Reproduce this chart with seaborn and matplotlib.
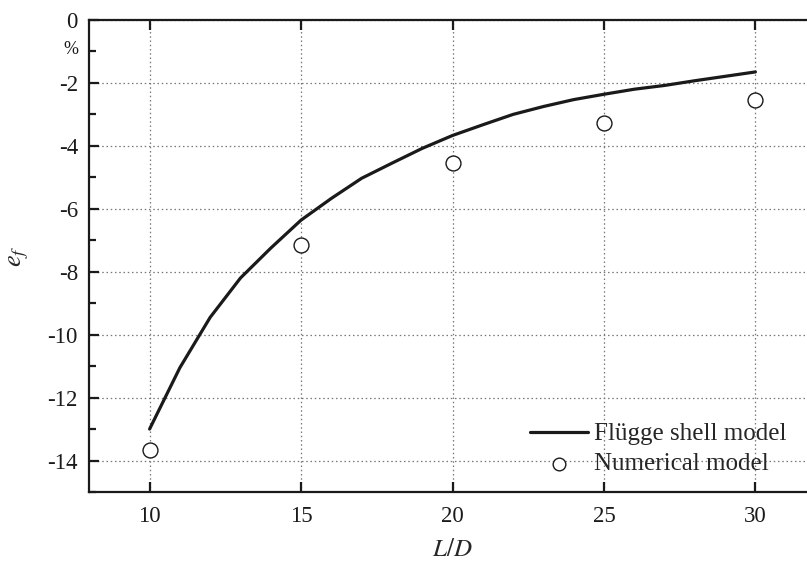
import matplotlib
matplotlib.use("Agg")
import matplotlib.pyplot as plt
import matplotlib.transforms as mtransforms
import seaborn as sns
import pandas as pd
from matplotlib.ticker import FixedLocator, FixedFormatter

# Data
ld_line = [10, 11, 12, 13, 14, 15, 16, 17, 18, 19, 20, 21, 22, 23, 24, 25, 26, 27, 28, 29, 30]
ef_flugge = [-13.0, -11.05, -9.45, -8.2, -7.25, -6.36, -5.67, -5.03, -4.55, -4.08, -3.67,
             -3.33, -3.0, -2.75, -2.53, -2.36, -2.2, -2.08, -1.93, -1.79, -1.65]
ld_num = [10, 15, 20, 25, 30]
ef_num = [-13.65, -7.15, -4.53, -3.26, -2.55]
x_ticks = [10, 15, 20, 25, 30]
y_ticks = [0, -2, -4, -6, -8, -10, -12, -14]
y_minor = [-1, -3, -5, -7, -9, -11, -13, -15]
y_minor_labels = ['%', '', '', '', '', '', '', '']

sns.set_style("ticks")
plt.rcParams['font.family'] = ['Liberation Serif', 'DejaVu Serif']
plt.rcParams['mathtext.fontset'] = 'stix'

fig = plt.figure(figsize=(8.07, 5.64), dpi=100)
ax = fig.add_axes([89 / 807, 72 / 564, (816 - 89) / 807, (492 - 20) / 564])

df_line = pd.DataFrame({'x': ld_line, 'y': ef_flugge})
df_num = pd.DataFrame({'x': ld_num, 'y': ef_num})

sns.lineplot(data=df_line, x='x', y='y', ax=ax, color='#1a1a1a', linewidth=2.3,
             label='Flügge shell model')
sns.scatterplot(data=df_num, x='x', y='y', ax=ax, marker='o', s=115,
                facecolor='white', edgecolor='#1a1a1a', linewidth=1.0,
                label='Numerical model', zorder=3)

ax.set_xlim(8, 32)
ax.set_ylim(-15, 0)
ax.set_xticks(x_ticks)
ax.set_xticklabels([str(v) for v in x_ticks])
ax.set_yticks(y_ticks)
ax.set_yticklabels([str(v) for v in y_ticks])
ax.yaxis.set_minor_locator(FixedLocator(y_minor))
ax.yaxis.set_minor_formatter(FixedFormatter(y_minor_labels))

ax.grid(True, which='major', linestyle=(0, (1.2, 2.2)), color='#777777', linewidth=0.9)
ax.set_axisbelow(True)

for side in ['left', 'bottom', 'top']:
    ax.spines[side].set_linewidth(1.6)
    ax.spines[side].set_color('#1a1a1a')
ax.spines['right'].set_visible(False)

ax.tick_params(axis='both', which='major', direction='in', length=7, width=1.6,
               labelsize=16.5, colors='#1a1a1a')
ax.tick_params(axis='x', which='major', top=True, bottom=True, labeltop=False, pad=10)
ax.tick_params(axis='y', which='major', pad=8)
ax.tick_params(axis='y', which='minor', direction='in', length=5, width=1.6,
               labelsize=13, colors='#1a1a1a', pad=8)
shift = mtransforms.ScaledTranslation(0, 3 / 72, fig.dpi_scale_trans)
for lab in ax.yaxis.get_minorticklabels():
    lab.set_transform(lab.get_transform() + shift)

ax.set_xlabel('$L/D$', fontsize=18, labelpad=9)
ax.set_ylabel('$e_f$', fontsize=19, labelpad=12)

leg = ax.legend(loc='lower left', bbox_to_anchor=(0.607, 0.035), frameon=False,
                fontsize=18, handlelength=2.3, handletextpad=0.25, labelspacing=0.3,
                borderaxespad=0, borderpad=0, markerscale=0.85)

fig.savefig('out.png', dpi=100)
